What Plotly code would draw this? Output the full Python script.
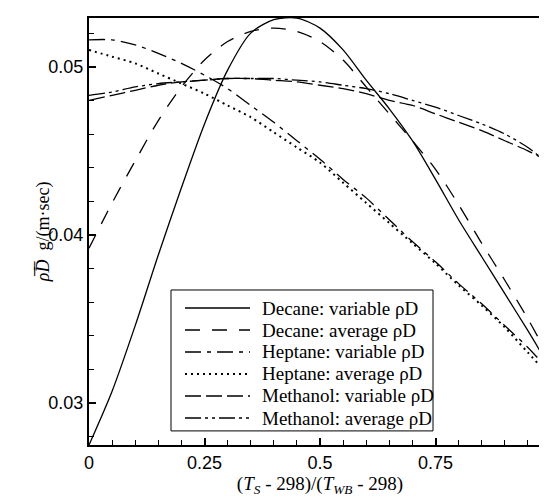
import plotly.graph_objects as go

x_vals = [0, 0.05, 0.1, 0.15, 0.2, 0.25, 0.3, 0.35, 0.4, 0.45, 0.5, 0.55, 0.6, 0.65, 0.7, 0.75, 0.8, 0.85, 0.9, 0.95, 1.0]

decane_variable = [0.0275, 0.0307, 0.0346, 0.0388, 0.0428, 0.0466, 0.0498, 0.0520, 0.0528, 0.0529, 0.0523, 0.0510, 0.0492, 0.0475, 0.0456, 0.0433, 0.0409, 0.0387, 0.0365, 0.0343, 0.0320]
decane_average = [0.0392, 0.0419, 0.0444, 0.0468, 0.0488, 0.0504, 0.0515, 0.0521, 0.0523, 0.0521, 0.0515, 0.0504, 0.0488, 0.0472, 0.0456, 0.0439, 0.0418, 0.0395, 0.0373, 0.0350, 0.0325]
heptane_variable = [0.0516, 0.0516, 0.0513, 0.0508, 0.0502, 0.0495, 0.0487, 0.0477, 0.0467, 0.0456, 0.0445, 0.0433, 0.0422, 0.0409, 0.0396, 0.0384, 0.0371, 0.0359, 0.0346, 0.0333, 0.0318]
heptane_average = [0.0510, 0.0506, 0.0502, 0.0496, 0.0490, 0.0484, 0.0477, 0.0470, 0.0461, 0.0452, 0.0443, 0.0431, 0.0419, 0.0407, 0.0395, 0.0383, 0.0370, 0.0358, 0.0345, 0.0330, 0.0315]
methanol_variable = [0.0480, 0.0483, 0.0486, 0.0489, 0.0491, 0.0492, 0.0493, 0.0493, 0.0492, 0.0491, 0.0489, 0.0487, 0.0484, 0.0480, 0.0477, 0.0472, 0.0467, 0.0462, 0.0456, 0.0450, 0.0443]
methanol_average = [0.0483, 0.0485, 0.0488, 0.0490, 0.0491, 0.0492, 0.0493, 0.0493, 0.0493, 0.0492, 0.0491, 0.0489, 0.0487, 0.0484, 0.0480, 0.0476, 0.0471, 0.0466, 0.0460, 0.0452, 0.0441]

series_names = ["Decane: variable ρD", "Decane: average ρD", "Heptane: variable ρD",
                "Heptane: average ρD", "Methanol: variable ρD", "Methanol: average ρD"]
series_values = [decane_variable, decane_average, heptane_variable,
                 heptane_average, methanol_variable, methanol_average]
dash_styles = ["solid", "15px,12px", "16px,6px,4px,6px", "2px,4px", "16px,5px", "16px,4px,3px,4px,3px,4px"]
line_widths = [1.3, 1.3, 1.3, 2.0, 1.3, 1.3]

x_tick_vals = [0, 0.25, 0.5, 0.75, 1]
x_tick_text = ["0", "0.25", "0.5", "0.75", "1"]
y_tick_vals = [0.03, 0.04, 0.05]
y_tick_text = ["0.03", "0.04", "0.05"]

SERIF = "Liberation Serif, Times New Roman, serif"
SANS = "Liberation Sans, Arial, sans-serif"

fig = go.Figure()
for name, vals, dash, w in zip(series_names, series_values, dash_styles, line_widths):
    fig.add_trace(go.Scatter(x=x_vals, y=vals, mode="lines", name=name, showlegend=False,
                             line=dict(color="black", width=w, dash=dash, shape="spline", smoothing=0.8)))

axis_common = dict(showgrid=False, zeroline=False, showline=True, linecolor="black", linewidth=2,
                   mirror=True, ticks="inside", tickcolor="black", tickwidth=1.5, ticklen=7,
                   automargin=False,
                   tickfont=dict(family=SANS, size=18, color="black"))

fig.update_xaxes(range=[0, 1], tickvals=x_tick_vals, ticktext=x_tick_text,
                 minor=dict(ticks="inside", dtick=0.05, ticklen=5, tickcolor="black", tickwidth=1),
                 title=dict(text="(<i>T<sub>S</sub></i> - 298)/(<i>T<sub>WB</sub></i> - 298)",
                            font=dict(family=SERIF, size=19, color="black"),
                            standoff=0),
                 **axis_common)
fig.update_yaxes(range=[0.0275, 0.0529], tickvals=y_tick_vals, ticktext=y_tick_text,
                 minor=dict(ticks="inside", tick0=0.03, dtick=0.002, ticklen=5, tickcolor="black", tickwidth=1),
                 **axis_common)

# y-axis title
fig.add_annotation(xref="paper", yref="paper", x=-0.098, y=0.50, textangle=-90,
                   text="<i>ρ\u0305D\u0305</i>  g/(m·sec)", showarrow=False,
                   font=dict(family=SERIF, size=18, color="black"),
                   xanchor="center", yanchor="middle")

# legend (drawn as box, sample lines and text labels)
leg_x0, leg_x1, leg_y0, leg_y1 = 0.1775, 0.7446, 0.033, 0.363
fig.add_shape(type="rect", xref="paper", yref="paper", x0=leg_x0, x1=leg_x1, y0=leg_y0, y1=leg_y1,
              line=dict(color="black", width=1), fillcolor="white", layer="above")
row_y = [0.3208, 0.2693, 0.2178, 0.1663, 0.1148, 0.0632]
for name, dash, w, ry in zip(series_names, dash_styles, line_widths, row_y):
    fig.add_shape(type="line", xref="paper", yref="paper", x0=0.2078, x1=0.3485, y0=ry, y1=ry,
                  line=dict(color="black", width=w, dash=dash), layer="above")
    fig.add_annotation(xref="paper", yref="paper", x=0.3700, y=ry, text=name, showarrow=False,
                       xanchor="left", yanchor="middle",
                       font=dict(family=SERIF, size=19, color="black"))

fig.update_layout(
    width=547, height=496,
    margin=dict(l=81, r=4, t=10, b=59),
    paper_bgcolor="white", plot_bgcolor="white",
    showlegend=False,
)

fig.write_html("out.html")
